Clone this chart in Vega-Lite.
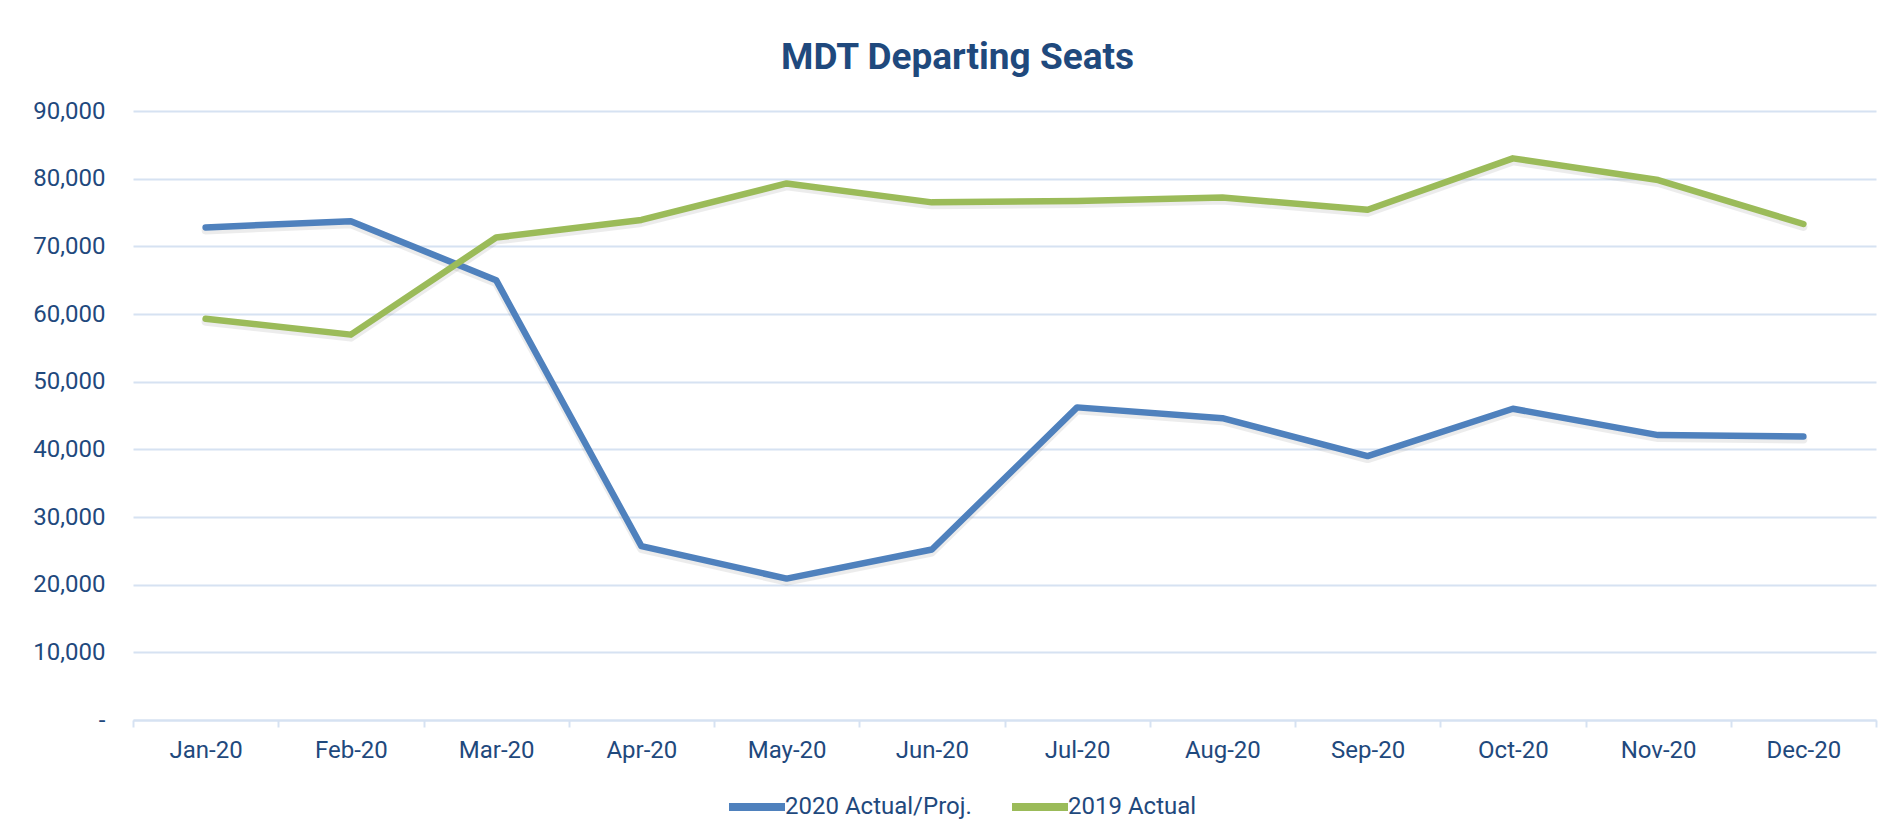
{
  "$schema": "https://vega.github.io/schema/vega-lite/v6.json",
  "width": 1743,
  "height": 609,
  "autosize": {"type": "none"},
  "padding": {"left": 133, "top": 111, "right": 14, "bottom": 120},
  "background": "white",
  "title": {
    "text": "MDT Departing Seats",
    "font": "Roboto",
    "fontSize": 37,
    "fontWeight": "bold",
    "color": "#1F497D",
    "anchor": "middle",
    "frame": "group",
    "offset": 22,
    "dx": -47
  },
  "data": {
    "values": [
      {"month": "Jan-20", "series": "2020 Actual/Proj.", "seats": 72800},
      {"month": "Feb-20", "series": "2020 Actual/Proj.", "seats": 73700},
      {"month": "Mar-20", "series": "2020 Actual/Proj.", "seats": 65000},
      {"month": "Apr-20", "series": "2020 Actual/Proj.", "seats": 25700},
      {"month": "May-20", "series": "2020 Actual/Proj.", "seats": 20900},
      {"month": "Jun-20", "series": "2020 Actual/Proj.", "seats": 25200},
      {"month": "Jul-20", "series": "2020 Actual/Proj.", "seats": 46200},
      {"month": "Aug-20", "series": "2020 Actual/Proj.", "seats": 44600},
      {"month": "Sep-20", "series": "2020 Actual/Proj.", "seats": 39000},
      {"month": "Oct-20", "series": "2020 Actual/Proj.", "seats": 46000},
      {"month": "Nov-20", "series": "2020 Actual/Proj.", "seats": 42100},
      {"month": "Dec-20", "series": "2020 Actual/Proj.", "seats": 41900},
      {"month": "Jan-20", "series": "2019 Actual", "seats": 59300},
      {"month": "Feb-20", "series": "2019 Actual", "seats": 56950},
      {"month": "Mar-20", "series": "2019 Actual", "seats": 71300},
      {"month": "Apr-20", "series": "2019 Actual", "seats": 73900},
      {"month": "May-20", "series": "2019 Actual", "seats": 79300},
      {"month": "Jun-20", "series": "2019 Actual", "seats": 76500},
      {"month": "Jul-20", "series": "2019 Actual", "seats": 76700},
      {"month": "Aug-20", "series": "2019 Actual", "seats": 77200},
      {"month": "Sep-20", "series": "2019 Actual", "seats": 75400},
      {"month": "Oct-20", "series": "2019 Actual", "seats": 83000},
      {"month": "Nov-20", "series": "2019 Actual", "seats": 79800},
      {"month": "Dec-20", "series": "2019 Actual", "seats": 73300}
    ]
  },
  "encoding": {
    "x": {
      "field": "month",
      "type": "ordinal",
      "sort": null,
      "scale": {"type": "band", "paddingInner": 0, "paddingOuter": 0},
      "axis": {
        "title": null,
        "labelAngle": 0,
        "labelFont": "Roboto",
        "labelFontSize": 24,
        "labelColor": "#1F497D",
        "labelBaseline": "middle",
        "labelPadding": 23,
        "tickSize": 7,
        "tickBand": "extent",
        "tickColor": "#D6E2F2",
        "tickWidth": 2,
        "domainColor": "#D6E2F2",
        "domainWidth": 2,
        "grid": false
      }
    },
    "y": {
      "field": "seats",
      "type": "quantitative",
      "scale": {"domain": [0, 90000], "nice": false, "zero": true},
      "axis": {
        "title": null,
        "values": [0, 10000, 20000, 30000, 40000, 50000, 60000, 70000, 80000, 90000],
        "format": ",d",
        "labelExpr": "datum.value === 0 ? '-\u00a0\u00a0' : datum.label",
        "labelFont": "Roboto",
        "labelFontSize": 24,
        "labelColor": "#1F497D",
        "labelPadding": 28,
        "ticks": false,
        "domain": false,
        "grid": true,
        "gridColor": "#D6E2F2",
        "gridWidth": 2
      }
    }
  },
  "layer": [
    {
      "mark": {"type": "line", "strokeWidth": 8, "color": "#7f7f7f", "opacity": 0.15, "strokeCap": "round", "strokeJoin": "round"},
      "encoding": {
        "detail": {"field": "series"},
        "yOffset": {"value": 3}
      }
    },
    {
      "mark": {"type": "line", "strokeWidth": 6.5, "strokeCap": "round", "strokeJoin": "round"},
      "encoding": {
        "color": {
          "field": "series",
          "type": "nominal",
          "sort": ["2020 Actual/Proj.", "2019 Actual"],
          "scale": {"domain": ["2020 Actual/Proj.", "2019 Actual"], "range": ["#4F81BD", "#9BBB59"]},
          "legend": {
            "title": null,
            "orient": "none",
            "direction": "horizontal",
            "legendX": 592,
            "legendY": 664,
            "padding": 0,
            "symbolType": "stroke",
            "symbolSize": 3136,
            "symbolStrokeWidth": 8,
            "labelFont": "Roboto",
            "labelFontSize": 24,
            "labelColor": "#1F497D",
            "labelOffset": -4,
            "labelLimit": 400,
            "columnPadding": 24
          }
        }
      }
    }
  ],
  "config": {
    "view": {"stroke": null}
  }
}
